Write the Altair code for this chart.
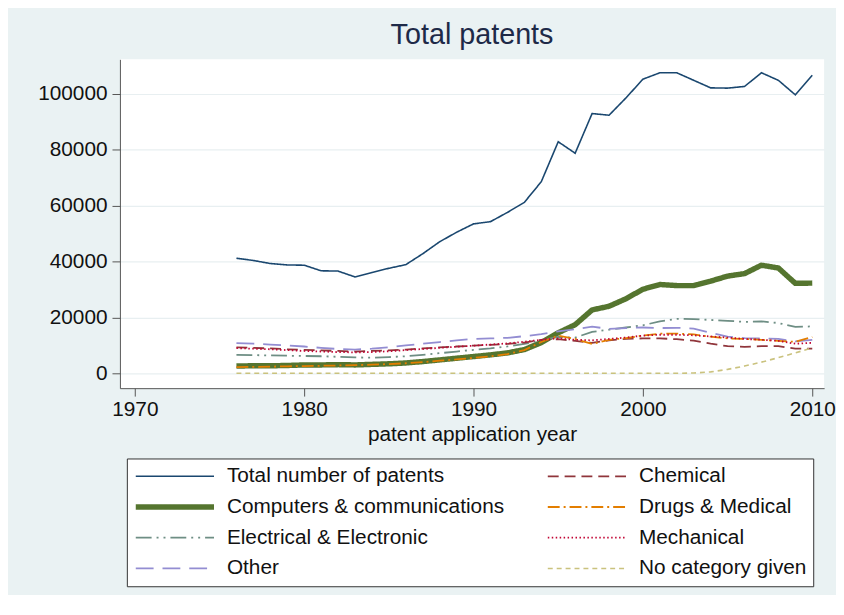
import altair as alt
import pandas as pd

years = list(range(1976, 2011))

total = [41200, 40400, 39300, 38800, 38700, 36700, 36600, 34500, 36100, 37600,
         38900, 42800, 47100, 50500, 53500, 54300, 57600, 61200, 68600, 82900,
         78800, 93000, 92400, 98600, 105300, 107600, 107600, 104900, 102200, 102100,
         102700, 107600, 104900, 99700, 106700]
computers = [2600, 2700, 2700, 2800, 3000, 3000, 3100, 3000, 3200, 3400,
             3700, 4200, 4800, 5400, 6000, 6600, 7300, 8500, 11000, 14500,
             17400, 22700, 24000, 26700, 30100, 31800, 31400, 31400, 33000, 34800,
             35700, 38700, 37700, 32200, 32300]
electrical = [6600, 6500, 6400, 6300, 6200, 6100, 5900, 5700, 5600, 5800,
              6100, 6600, 7200, 7800, 8400, 8900, 9600, 10500, 11800, 13000,
              12800, 14800, 15600, 16400, 17200, 18600, 19500, 19400, 19100, 18800,
              18400, 18600, 18000, 16600, 16800]
other = [10800, 10600, 10300, 10000, 9600, 9100, 8700, 8500, 8800, 9300,
         10000, 10600, 11200, 11800, 12300, 12500, 12700, 13300, 14000, 15000,
         15800, 16700, 15900, 16200, 16400, 16200, 16300, 16000, 14500, 13100,
         12600, 12500, 12300, 11400, 12000]
chemical = [9300, 9100, 8900, 8600, 8400, 8200, 8000, 7800, 8000, 8200,
            8500, 8900, 9300, 9600, 9900, 10200, 10500, 11000, 12000, 12200,
            11600, 10900, 11800, 12300, 12500, 12500, 12200, 11700, 10600, 9700,
            9500, 9700, 9700, 8800, 8800]
drugs = [2200, 2300, 2400, 2500, 2600, 2700, 2800, 2900, 3100, 3300,
         3600, 4000, 4500, 5000, 5500, 6100, 6900, 8300, 11200, 13500,
         12300, 10500, 12000, 12600, 13500, 14200, 14200, 13900, 13100, 12500,
         12300, 12000, 11600, 11300, 13000]
mechanical = [9000, 8800, 8600, 8300, 8000, 7800, 7600, 7500, 7600, 7900,
              8300, 8700, 9100, 9500, 9900, 10300, 10700, 11300, 12000, 12500,
              12000, 11800, 12300, 12800, 13500, 13800, 13800, 13600, 13200, 12800,
              12300, 12000, 11600, 10600, 10900]
no_category = [0, 0, 0, 0, 0, 0, 0, 0, 0, 0,
               0, 0, 0, 0, 0, 0, 0, 0, 0, 0,
               0, 0, 0, 0, 0, 0, 0, 100, 500, 1400,
               2600, 4000, 5600, 7300, 9100]

series_data = [
    ("Total number of patents", total),
    ("Computers & communications", computers),
    ("Electrical & Electronic", electrical),
    ("Other", other),
    ("Chemical", chemical),
    ("Drugs & Medical", drugs),
    ("Mechanical", mechanical),
    ("No category given", no_category),
]

# legend order (column-major, two columns of four)
legend_order = [name for name, _ in series_data]
colors = ["#1a476f", "#55752f", "#6e8e84", "#938dd2",
          "#90353b", "#e37e00", "#c10534", "#cac27e"]
dashes = [[1, 0], [1, 0], [16, 5, 2, 5, 2, 5], [18, 9],
          [11, 6], [12, 4, 2, 4], [1.5, 2.5], [5, 4]]
widths = [1.6, 5.5, 1.8, 1.8, 1.8, 1.8, 1.8, 1.6]

x_ticks = [1970, 1980, 1990, 2000, 2010]
y_ticks = [0, 20000, 40000, 60000, 80000, 100000]

rows = []
for order, (name, vals) in enumerate(series_data):
    for yr, v in zip(years, vals):
        rows.append({"year": yr, "value": v, "series": name, "ord": order})
df = pd.DataFrame(rows)

FONT = "Liberation Sans"

legend = alt.Legend(
    title=None, orient="none", legendX=7, legendY=403, columns=2,
    symbolType="stroke", symbolSize=6241, clipHeight=24, rowPadding=7,
    columnPadding=40, labelOffset=10, padding=6,
    labelFontSize=21, labelFont=FONT, labelColor="#111111", labelLimit=400,
    fillColor="white", strokeColor="#333333",
)

chart = alt.Chart(df).mark_line(clip=True).encode(
    x=alt.X("year:Q",
            scale=alt.Scale(domain=[1969.12, 2010.70], nice=False, zero=False),
            axis=alt.Axis(values=x_ticks, format="d", title="patent application year",
                          grid=False, tickSize=8, labelPadding=3, titlePadding=4)),
    y=alt.Y("value:Q",
            scale=alt.Scale(domain=[-5320, 112410], nice=False, zero=False),
            axis=alt.Axis(values=y_ticks, format="d", title=None, grid=True,
                          tickSize=8, labelPadding=5)),
    color=alt.Color("series:N", scale=alt.Scale(domain=legend_order, range=colors),
                    legend=legend),
    strokeDash=alt.StrokeDash("series:N", scale=alt.Scale(domain=legend_order, range=dashes),
                              legend=legend),
    strokeWidth=alt.StrokeWidth("series:N",
                                scale=alt.Scale(type="ordinal", domain=legend_order, range=widths),
                                legend=legend),
    order=alt.Order("ord:Q"),
).properties(
    width=711, height=332,
    title=alt.TitleParams("Total patents", fontSize=29, font=FONT, fontWeight="normal",
                          color="#1e2a48", offset=9, anchor="middle"),
    padding={"left": 29, "top": 11, "right": 0, "bottom": 5},
    background="#eaf2f3",
).configure_view(
    fill="white", strokeWidth=0
).configure_axis(
    labelFont=FONT, titleFont=FONT, labelFontSize=21, titleFontSize=21,
    titleFontWeight="normal", labelColor="#111111", titleColor="#111111",
    domainColor="#555555", tickColor="#555555", gridColor="#e8eff1", gridWidth=1.2,
)

chart.save("out.html", embed_options={"renderer": "svg", "actions": False})
